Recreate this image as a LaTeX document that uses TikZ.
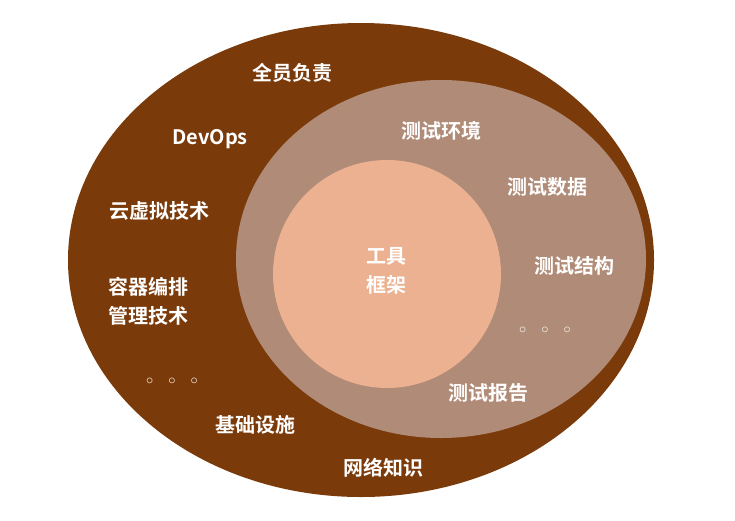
\documentclass[tikz,border=0pt]{standalone}
\usepackage{fontspec}
\setmainfont{Noto Sans CJK SC}[BoldFont={Noto Sans CJK SC Bold}]
\definecolor{outerc}{HTML}{7A3A0A}
\definecolor{midc}{HTML}{B08B77}
\definecolor{innerc}{HTML}{EBB190}
\begin{document}
\begin{tikzpicture}[x=1pt,y=-1pt,
  lbl/.style={text=white,font=\bfseries\fontsize{20}{22}\selectfont,inner sep=1pt},
  dots/.style={text=white,font=\bfseries\fontsize{15}{17}\selectfont}]
\useasboundingbox (0,0) rectangle (735,520);
\fill[outerc] (361,260) ellipse [x radius=293, y radius=237];
\fill[midc] (441,259) ellipse [x radius=205, y radius=179];
\fill[innerc] (387,274) circle [radius=114];
\node[lbl] (a) at (292,73) {全员负责};
\node[lbl] (b) at (210,139) {DevOps};
\node[lbl] (c) at (159,211) {云虚拟技术};
\node[lbl] (d) at (148,287) {容器编排};
\node[lbl] (e) at (148,316) {管理技术};
\node[dots] (f) at (172,381) {$\circ$\quad$\circ$\quad$\circ$};
\node[lbl] (g) at (255,425) {基础设施};
\node[lbl] (h) at (383,468) {网络知识};
\node[lbl] (i) at (441,131) {测试环境};
\node[lbl] (j) at (547,187) {测试数据};
\node[lbl] (k) at (574,266) {测试结构};
\node[dots] (l) at (545,330) {$\circ$\quad$\circ$\quad$\circ$};
\node[lbl] (m) at (488,393) {测试报告};
\node[lbl] (n) at (386,256) {工具};
\node[lbl] (o) at (386,285) {框架};
\end{tikzpicture}
\end{document}
